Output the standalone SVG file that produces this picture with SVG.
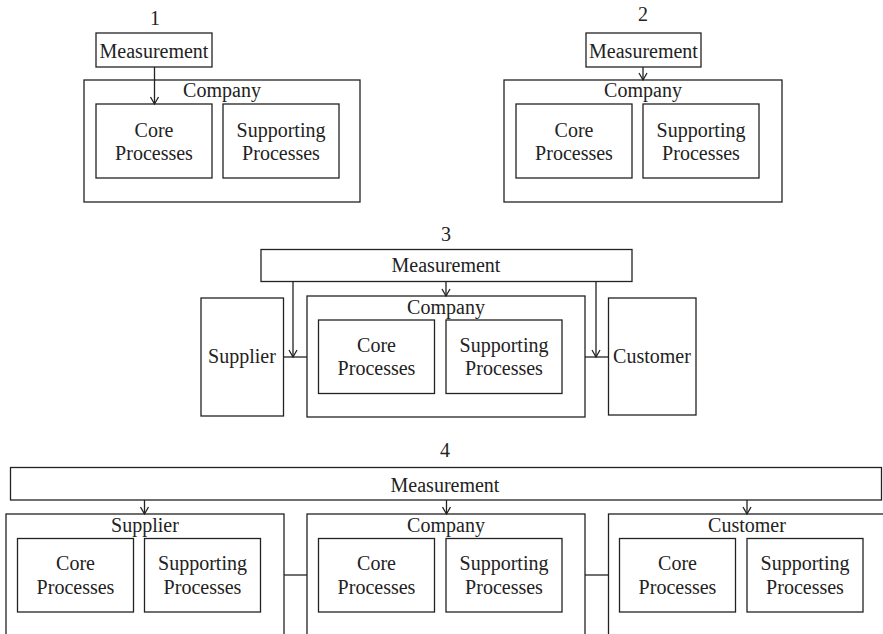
<svg xmlns="http://www.w3.org/2000/svg" width="883" height="634" viewBox="0 0 883 634">
  <style>
    .box { fill: #fff; stroke: #222; stroke-width: 1.3; }
    .lbl { font-family: "Liberation Serif", "Times New Roman", serif; font-size: 20px; fill: #222; text-anchor: middle; }
    .wire { fill: none; stroke: #222; stroke-width: 1.3; }
  </style>
  <defs>
    <marker id="vee" markerUnits="userSpaceOnUse" markerWidth="12" markerHeight="12" refX="0" refY="0" viewBox="-9 -6 10 12" orient="auto" overflow="visible">
      <path d="M -7,-4 L 0,0 L -7,4" fill="none" stroke="#222" stroke-width="1.3"/>
    </marker>
  </defs>
  <rect width="883" height="634" fill="#fff"/>

  <!-- Panel numbers -->
  <g id="titles">
    <text class="lbl" x="155" y="25">1</text>
    <text class="lbl" x="643" y="21">2</text>
    <text class="lbl" x="446" y="241">3</text>
    <text class="lbl" x="445" y="457">4</text>
  </g>

  <!-- Panel 1 -->
  <g id="p1-measurement">
    <rect class="box" x="96" y="33" width="116" height="34"/>
    <text class="lbl" x="154" y="58">Measurement</text>
  </g>
  <g id="p1-company">
    <rect class="box" x="84" y="80" width="276" height="122"/>
    <text class="lbl" x="222" y="97">Company</text>
  </g>
  <g id="p1-core">
    <rect class="box" x="96" y="104" width="116" height="74"/>
    <text class="lbl" x="154" y="137">Core</text>
    <text class="lbl" x="154" y="159.5">Processes</text>
  </g>
  <g id="p1-support">
    <rect class="box" x="223" y="104" width="116" height="74"/>
    <text class="lbl" x="281" y="137">Supporting</text>
    <text class="lbl" x="281" y="159.5">Processes</text>
  </g>

  <!-- Panel 2 -->
  <g id="p2-measurement">
    <rect class="box" x="586" y="33" width="115" height="34"/>
    <text class="lbl" x="643.5" y="58">Measurement</text>
  </g>
  <g id="p2-company">
    <rect class="box" x="504" y="80" width="278" height="122"/>
    <text class="lbl" x="643" y="97">Company</text>
  </g>
  <g id="p2-core">
    <rect class="box" x="516" y="104" width="116" height="74"/>
    <text class="lbl" x="574" y="137">Core</text>
    <text class="lbl" x="574" y="159.5">Processes</text>
  </g>
  <g id="p2-support">
    <rect class="box" x="643" y="104" width="116" height="74"/>
    <text class="lbl" x="701" y="137">Supporting</text>
    <text class="lbl" x="701" y="159.5">Processes</text>
  </g>

  <!-- Panel 3 -->
  <g id="p3-measurement">
    <rect class="box" x="261" y="249.5" width="371" height="32"/>
    <text class="lbl" x="446" y="272">Measurement</text>
  </g>
  <g id="p3-supplier">
    <rect class="box" x="201" y="298" width="82.5" height="118"/>
    <text class="lbl" x="242" y="363">Supplier</text>
  </g>
  <g id="p3-company">
    <rect class="box" x="307" y="296" width="278" height="121"/>
    <text class="lbl" x="446" y="313.5">Company</text>
  </g>
  <g id="p3-core">
    <rect class="box" x="318.5" y="320" width="116" height="73.5"/>
    <text class="lbl" x="376.5" y="352">Core</text>
    <text class="lbl" x="376.5" y="375">Processes</text>
  </g>
  <g id="p3-support">
    <rect class="box" x="446" y="320" width="116" height="73.5"/>
    <text class="lbl" x="504" y="352">Supporting</text>
    <text class="lbl" x="504" y="375">Processes</text>
  </g>
  <g id="p3-customer">
    <rect class="box" x="608.5" y="298" width="87.5" height="117"/>
    <text class="lbl" x="652" y="363">Customer</text>
  </g>

  <!-- Panel 4 -->
  <g id="p4-measurement">
    <rect class="box" x="10.5" y="467.5" width="871" height="32.5"/>
    <text class="lbl" x="445" y="492">Measurement</text>
  </g>
  <g id="p4-supplier">
    <rect class="box" x="6" y="514" width="278" height="140"/>
    <text class="lbl" x="145" y="532">Supplier</text>
  </g>
  <g id="p4-supplier-core">
    <rect class="box" x="17.5" y="538.5" width="116" height="73.5"/>
    <text class="lbl" x="75.5" y="570">Core</text>
    <text class="lbl" x="75.5" y="593.5">Processes</text>
  </g>
  <g id="p4-supplier-support">
    <rect class="box" x="144.5" y="538.5" width="116" height="73.5"/>
    <text class="lbl" x="202.5" y="570">Supporting</text>
    <text class="lbl" x="202.5" y="593.5">Processes</text>
  </g>
  <g id="p4-company">
    <rect class="box" x="307" y="514" width="278" height="140"/>
    <text class="lbl" x="446" y="532">Company</text>
  </g>
  <g id="p4-company-core">
    <rect class="box" x="318.5" y="538.5" width="116" height="73.5"/>
    <text class="lbl" x="376.5" y="570">Core</text>
    <text class="lbl" x="376.5" y="593.5">Processes</text>
  </g>
  <g id="p4-company-support">
    <rect class="box" x="446" y="538.5" width="116" height="73.5"/>
    <text class="lbl" x="504" y="570">Supporting</text>
    <text class="lbl" x="504" y="593.5">Processes</text>
  </g>
  <g id="p4-customer">
    <rect class="box" x="608.5" y="514" width="278" height="140"/>
    <text class="lbl" x="747" y="532">Customer</text>
  </g>
  <g id="p4-customer-core">
    <rect class="box" x="619.5" y="538.5" width="116" height="73.5"/>
    <text class="lbl" x="677.5" y="570">Core</text>
    <text class="lbl" x="677.5" y="593.5">Processes</text>
  </g>
  <g id="p4-customer-support">
    <rect class="box" x="747" y="538.5" width="116" height="73.5"/>
    <text class="lbl" x="805" y="570">Supporting</text>
    <text class="lbl" x="805" y="593.5">Processes</text>
  </g>

  <!-- Connectors -->
  <g id="connectors" class="wire">
    <line x1="154.5" y1="67" x2="154.5" y2="104" marker-end="url(#vee)"/>
    <line x1="643" y1="67" x2="643" y2="80" marker-end="url(#vee)"/>

    <line x1="446" y1="281.5" x2="446" y2="296" marker-end="url(#vee)"/>
    <line x1="293" y1="281.5" x2="293" y2="357" marker-end="url(#vee)"/>
    <line x1="596" y1="281.5" x2="596" y2="357" marker-end="url(#vee)"/>
    <line x1="283.5" y1="357" x2="307" y2="357"/>
    <line x1="585" y1="357" x2="608.5" y2="357"/>

    <line x1="144.5" y1="500" x2="144.5" y2="514" marker-end="url(#vee)"/>
    <line x1="446.5" y1="500" x2="446.5" y2="514" marker-end="url(#vee)"/>
    <line x1="747" y1="500" x2="747" y2="514" marker-end="url(#vee)"/>
    <line x1="284" y1="575" x2="307" y2="575"/>
    <line x1="585" y1="575" x2="608.5" y2="575"/>
  </g>
</svg>
